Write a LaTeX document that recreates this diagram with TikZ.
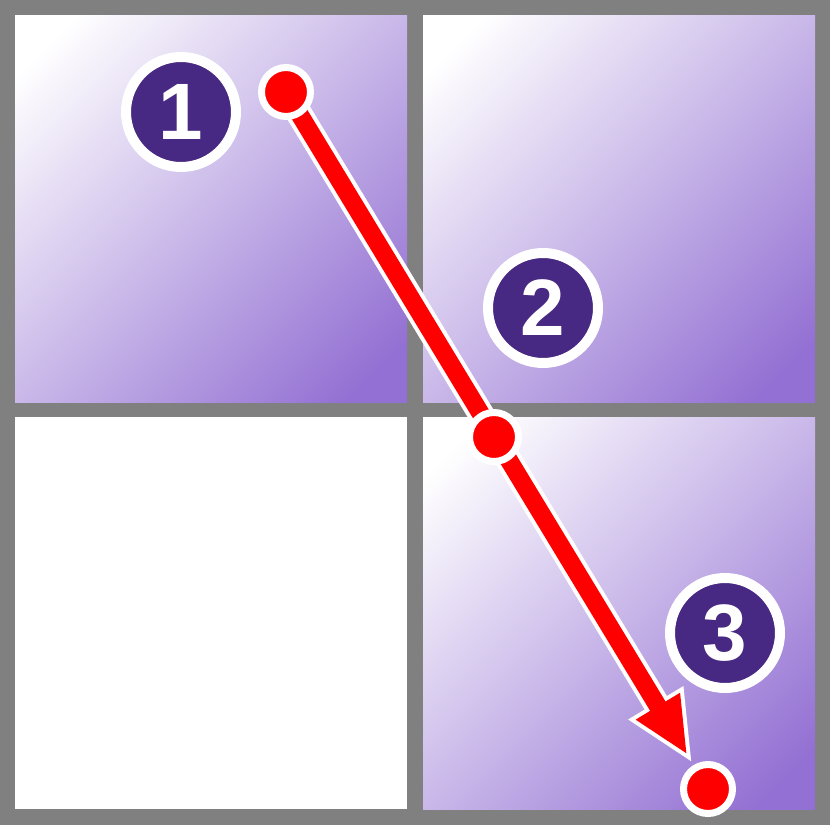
\documentclass[tikz,border=0pt]{standalone}
\usepackage{fontspec}
\setmainfont{Liberation Sans}
\usetikzlibrary{calc}
\definecolor{gridgray}{RGB}{128,128,128}
\definecolor{panelpurple}{RGB}{147,112,211}
\definecolor{badgepurple}{RGB}{71,40,130}
\definecolor{arrowred}{RGB}{255,0,0}
\pgfdeclareverticalshading{diagpanel}{100bp}{color(0bp)=(panelpurple); color(20bp)=(panelpurple); color(80bp)=(white); color(100bp)=(white)}
\tikzset{
  panel/.style={shading=diagpanel, shading angle=45},
  badge/.style={circle, fill=badgepurple, draw=white, line width=10pt, minimum size=110pt, inner sep=0pt,
    text=white, font=\fontsize{80}{80}\selectfont\bfseries},
  dot/.style={circle, fill=arrowred, draw=white, line width=7pt, minimum size=49pt, inner sep=0pt},
}
\begin{document}
\begin{tikzpicture}[x=1pt,y=-1pt]
\useasboundingbox (0,0) rectangle (830,830);
\fill[white] (0,0) rectangle (830,830);
\fill[gridgray] (0,0) rectangle (830,825);
% panels
\shade[panel] (15,15) rectangle (407,402);
\shade[panel] (423,15) rectangle (815,402);
\fill[white] (15,417) rectangle (407,809);
\shade[panel] (423,417) rectangle (815,809);
% badges
\node[badge] (b1) at (181,112) {1};
\node[badge] (b2) at (543,308) {2};
\node[badge] (b3) at (725,633) {3};
% dot positions
\coordinate (c1) at (286,92);
\coordinate (c3) at (708,789);
% arrow geometry
\coordinate (tip) at ($(c1)!773pt!(c3)$);
\coordinate (base) at ($(c1)!718pt!(c3)$);
\coordinate (baseIn) at ($(c1)!724pt!(c3)$);
\coordinate (h1) at ($(base)!26pt!90:(c3)$);
\coordinate (h2) at ($(base)!26pt!-90:(c3)$);
\draw[white, line width=26pt] (c1) -- (base);
\filldraw[white, line width=8pt, line join=miter] (tip) -- (h1) -- (h2) -- cycle;
\draw[arrowred, line width=18pt] (c1) -- (baseIn);
\fill[arrowred] (tip) -- (h1) -- (h2) -- cycle;
% dots
\node[dot] (p1) at (c1) {};
\node[dot] (p2) at (494,437) {};
\node[dot] (p3) at (c3) {};
\end{tikzpicture}
\end{document}
